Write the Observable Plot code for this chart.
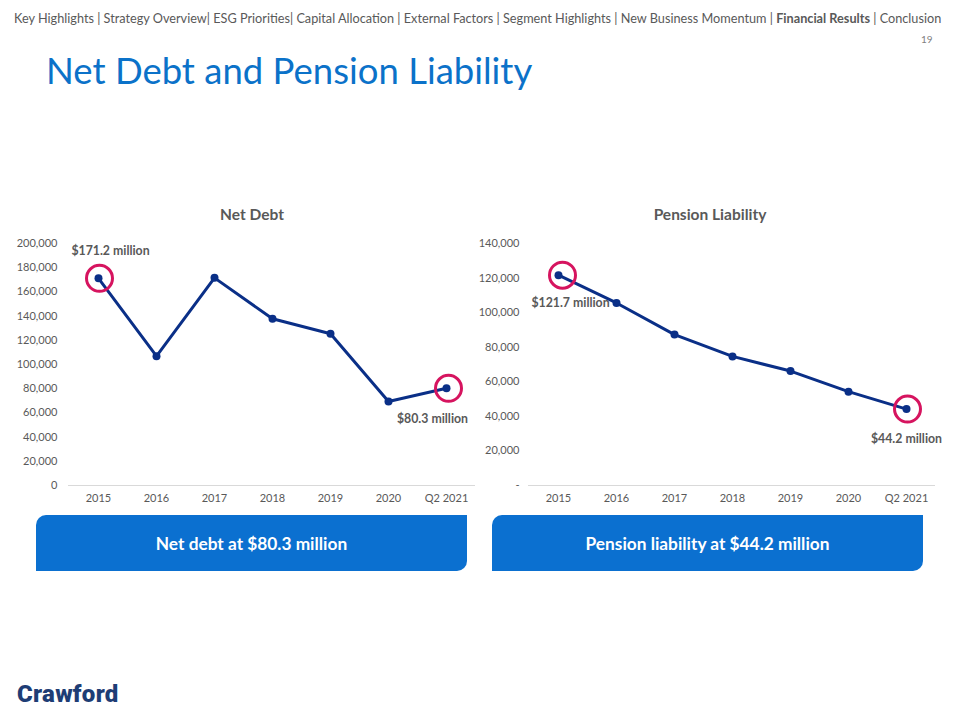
<!DOCTYPE html>
<html><head><meta charset="utf-8">
<script src="https://cdn.jsdelivr.net/npm/d3@7"></script>
<script src="https://cdn.jsdelivr.net/npm/@observablehq/plot@0.6"></script>
<style>
body{margin:0;width:960px;height:720px;position:relative;background:#fff;font-family:Lato,sans-serif;overflow:hidden}
.abs{position:absolute}
#nav{left:14px;top:10px;font-size:12.7px;color:#595959;white-space:nowrap}
#page{left:921px;top:33px;font-size:10px;color:#7f7f7f}
#title{left:46px;top:48px;font-size:36.5px;color:#0b72c9;font-weight:400;white-space:nowrap}
.ctitle{font-size:15.5px;font-weight:700;color:#595959;text-align:center;width:300px}
.box{background:#0b70d0;color:#fff;font-weight:700;font-size:17.3px;text-align:center;border-radius:10px 0 10px 0;display:flex;align-items:center;justify-content:center}
#logo{left:17px;top:680px;font-family:Roboto,sans-serif;font-weight:900;font-size:24px;color:#1e3d75;letter-spacing:0.3px}
</style></head><body>
<div id="nav" class="abs">Key Highlights | Strategy Overview| ESG Priorities| Capital Allocation | External Factors | Segment Highlights | New Business Momentum | <b>Financial Results</b> | Conclusion</div>
<div id="page" class="abs">19</div>
<div id="title" class="abs">Net Debt and Pension Liability</div>
<div class="abs ctitle" style="left:102px;top:205px">Net Debt</div>
<div class="abs ctitle" style="left:560px;top:205px">Pension Liability</div>
<div id="c1" class="abs" style="left:0px;top:225px"></div>
<div id="c2" class="abs" style="left:460px;top:225px"></div>
<div class="abs box" style="left:36px;top:515px;width:431px;height:56px">Net debt at $80.3 million</div>
<div class="abs box" style="left:492px;top:515px;width:431px;height:56px">Pension liability at $44.2 million</div>
<div id="logo" class="abs">Crawford</div>
<script>
const periods = ["2015","2016","2017","2018","2019","2020","Q2 2021"];
const netDebt = [171200,106900,171600,137800,125400,69400,80300];
const pension = [121700,105600,87300,74700,66200,54300,44200];
const netDebtTicks = [0,20000,40000,60000,80000,100000,120000,140000,160000,180000,200000];
const pensionTicks = [0,20000,40000,60000,80000,100000,120000,140000];
const netDebtLabels = ["$171.2 million","$80.3 million"];
const pensionLabels = ["$121.7 million","$44.2 million"];

const lineColor = "#0a2f87";
const ringColor = "#d6145f";
const fmtComma = d3.format(",");

function chart(values, ticks, yMax, tickFmt, labels, o) {
  const rows = periods.map((p, i) => ({period: p, value: values[i]}));
  const first = rows[0], last = rows[rows.length - 1];
  return Plot.plot({
    width: 480, height: 290,
    marginLeft: 68, marginRight: 5, marginTop: 18, marginBottom: 30,
    style: {fontFamily: "Lato, sans-serif", fontSize: "11px", color: "#595959", background: "transparent", overflow: "visible"},
    x: {type: "point", domain: periods, padding: 0.5, label: null},
    y: {domain: [0, yMax], label: null},
    marks: [
      Plot.ruleY([0], {stroke: "#d9d9d9", strokeWidth: 1}),
      Plot.axisY({ticks: ticks, tickSize: 0, tickPadding: o.tickPad, tickFormat: tickFmt, label: null, fontSize: 11}),
      Plot.axisX({tickSize: 0, tickPadding: 9, label: null, fontSize: 11}),
      Plot.line(rows, {x: "period", y: "value", stroke: lineColor, strokeWidth: 3}),
      Plot.dot(rows, {x: "period", y: "value", r: 4, fill: lineColor}),
      Plot.dot([first], {x: "period", y: "value", r: 13, stroke: ringColor, strokeWidth: 3, fill: "none", dx: o.r1dx}),
      Plot.dot([last], {x: "period", y: "value", r: 13, stroke: ringColor, strokeWidth: 3, fill: "none", dx: o.r2dx}),
      Plot.text([first], {x: "period", y: "value", text: () => labels[0], dx: o.l1dx, dy: o.l1dy, fontWeight: "bold", fontSize: 12.3, fill: "#595959"}),
      Plot.text([last], {x: "period", y: "value", text: () => labels[1], dx: o.l2dx, dy: o.l2dy, fontWeight: "bold", fontSize: 12.3, fill: "#595959"})
    ]
  });
}

document.getElementById("c1").append(chart(netDebt, netDebtTicks, 200000, fmtComma, netDebtLabels,
  {tickPad: 11, r1dx: 1, r2dx: 2, l1dx: 12, l1dy: -27, l2dx: -14, l2dy: 31}));
document.getElementById("c2").append(chart(pension, pensionTicks, 140000, d => d === 0 ? "-" : fmtComma(d), pensionLabels,
  {tickPad: 9, r1dx: 4, r2dx: 1, l1dx: 12, l1dy: 28, l2dx: 0, l2dy: 30}));
</script>
</body></html>
